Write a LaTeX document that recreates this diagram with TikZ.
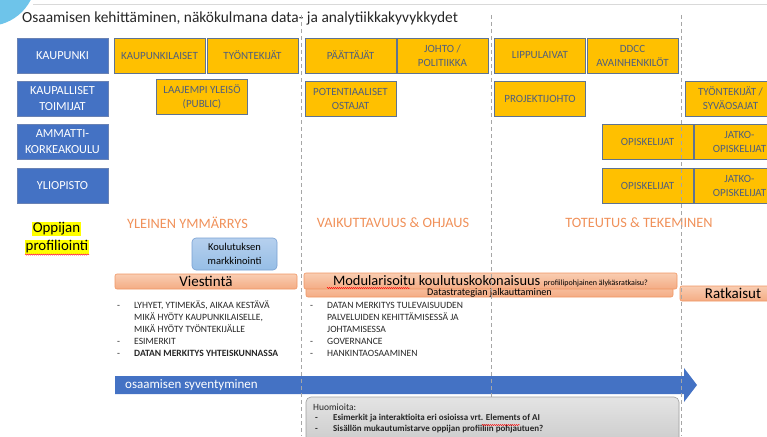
\documentclass[tikz,border=0pt]{standalone}
\usepackage{fontspec}
\setmainfont{Carlito}
\usetikzlibrary{decorations.pathmorphing}
\definecolor{cblue}{RGB}{68,114,196}
\definecolor{rowborder}{RGB}{105,130,180}
\definecolor{cyellow}{RGB}{255,192,0}
\definecolor{yborder}{RGB}{95,115,145}
\definecolor{ytext}{RGB}{80,95,125}
\definecolor{corange}{RGB}{240,145,90}
\definecolor{bartop}{RGB}{249,205,178}
\definecolor{barbot}{RGB}{244,172,132}
\definecolor{barborder}{RGB}{240,150,100}
\definecolor{ktop}{RGB}{182,208,238}
\definecolor{kbot}{RGB}{150,190,230}
\definecolor{kborder}{RGB}{120,160,210}
\definecolor{ntop}{RGB}{228,228,228}
\definecolor{nbot}{RGB}{200,200,200}
\definecolor{nborder}{RGB}{160,160,160}
\definecolor{dashgray}{RGB}{166,166,166}
\definecolor{topline}{RGB}{217,217,217}
\definecolor{sky}{RGB}{110,196,234}
\definecolor{ltext}{RGB}{38,38,38}
\definecolor{hl}{RGB}{255,255,0}
\begin{document}
\begin{tikzpicture}[x=1pt,y=-1pt,
 rowbox/.style={draw=rowborder, fill=cblue, text=white, font=\fontsize{12.3}{16}\selectfont, align=center, minimum width=91pt, minimum height=35pt, inner sep=1pt, line width=0.8pt},
 ybox/.style={draw=yborder, fill=cyellow, text=ytext, font=\fontsize{11}{14}\selectfont, align=center, minimum width=91pt, minimum height=35pt, inner sep=1pt, line width=0.8pt},
 heading/.style={text=corange, font=\fontsize{14.3}{16}\selectfont, inner sep=0pt},
 bar/.style={draw=barborder, top color=bartop, bottom color=barbot, rounded corners=2pt, inner sep=0pt, line width=0.6pt},
 phase/.style={draw=dashgray, dash pattern=on 4pt off 3pt, line width=1pt},
 listtxt/.style={text=ltext, font=\fontsize{9.6}{12}\selectfont, anchor=north west, inner sep=0pt, align=left},
 spell/.style={draw=red, line width=0.4pt, decorate, decoration={snake, amplitude=0.6pt, segment length=2pt}}
]
\useasboundingbox (0,0) rectangle (767,436);
\clip (0,0) rectangle (767,436);
% decoration
\fill[sky] (-12,-22) circle (48pt);
\draw[topline, line width=1pt] (33,5) -- (767,5);
\node[anchor=west, font=\fontsize{15.4}{18}\selectfont, text=ltext, inner sep=0pt] (title) at (22,18) {Osaamisen kehittäminen, näkökulmana data- ja analytiikkakyvykkydet};
% row labels
\node[rowbox] (kaup) at (62.5,55.5) {KAUPUNKI};
\node[rowbox] (kaupal) at (62.5,98.5) {KAUPALLISET\\TOIMIJAT};
\node[rowbox] (amk) at (62.5,142) {AMMATTI-\\KORKEAKOULU};
\node[rowbox] (yo) at (62.5,186) {YLIOPISTO};
% row 1
\node[ybox] (k1) at (159.5,55.5) {KAUPUNKILAISET};
\node[ybox] (k2) at (252.5,55.5) {TYÖNTEKIJÄT};
\node[ybox] (k3) at (350.5,55.5) {PÄÄTTÄJÄT};
\node[ybox] (k4) at (442.5,55.5) {JOHTO /\\POLITIIKKA};
\node[ybox] (k5) at (540,55.5) {LIPPULAIVAT};
\node[ybox] (k6) at (632.5,55.5) {DDCC\\AVAINHENKILÖT};
% row 2
\node[ybox] (t1) at (202,97) {LAAJEMPI YLEISÖ\\(PUBLIC)};
\node[ybox] (t2) at (350.5,98.5) {POTENTIAALISET\\OSTAJAT};
\node[ybox] (t3) at (540,98.5) {PROJEKTIJOHTO};
\node[ybox] (t4) at (730.5,98.5) {TYÖNTEKIJÄT /\\SYVÄOSAJAT};
% row 3, 4
\node[ybox] (a1) at (647.5,142) {OPISKELIJAT};
\node[ybox] (a2) at (739.5,142) {JATKO-\\OPISKELIJAT};
\node[ybox] (y1) at (647.5,186) {OPISKELIJAT};
\node[ybox] (y2) at (739.5,186) {JATKO-\\OPISKELIJAT};
% headings
\node[heading] (h1) at (187.5,223) {YLEINEN YMMÄRRYS};
\node[heading] (h2) at (393,223) {VAIKUTTAVUUS \& OHJAUS};
\node[heading] (h3) at (639,223) {TOTEUTUS \& TEKEMINEN};
% learner profiling
\node[fill=hl, inner sep=0.5pt, font=\fontsize{14.9}{17}\selectfont] (opp) at (56.5,229) {Oppijan};
\node[fill=hl, inner sep=0.5pt, font=\fontsize{14.9}{17}\selectfont] (prof) at (57,247) {profiliointi};
\draw[spell] ([yshift=-0.5pt]prof.south west) -- ([yshift=-0.5pt]prof.south east);
% marketing
\node[draw=kborder, top color=ktop, bottom color=kbot, rounded corners=4pt, line width=0.6pt, minimum width=85pt, minimum height=32pt, align=center, font=\fontsize{10.5}{14}\selectfont, inner sep=0pt] (mark) at (234.5,254) {Koulutuksen\\markkinointi};
% bars
\node[bar, minimum width=182pt, minimum height=15pt, font=\fontsize{15}{16}\selectfont] (viest) at (206,281.5) {Viestintä};
\node[bar, minimum width=367pt, minimum height=16pt] (data) at (489.5,289) {};
\node[bar, minimum width=373pt, minimum height=16pt] (modu) at (490.5,281) {\fontsize{14.4}{15}\selectfont Modularisoitu koulutuskokonaisuus \fontsize{8}{9}\selectfont profiilipohjainen älykäsratkaisu?};
\node[font=\fontsize{10.2}{11}\selectfont, inner sep=0pt] (datatxt) at (489.5,293.3) {Datastrategian jalkauttaminen};
\node[bar, minimum width=106pt, minimum height=15pt, font=\fontsize{15}{16}\selectfont] (ratk) at (733,293.5) {Ratkaisut};
\draw[spell] (327,288) -- (410,288);
% lists
\node[listtxt] (list1) at (117,299.5) {\begin{tabular}{@{}p{17pt}@{}l@{}}
- & LYHYET, YTIMEKÄS, AIKAA KESTÄVÄ\\
 & MIKÄ HYÖTY KAUPUNKILAISELLE,\\
 & MIKÄ HYÖTY TYÖNTEKIJÄLLE\\
- & ESIMERKIT\\
- & \textbf{DATAN MERKITYS YHTEISKUNNASSA}
\end{tabular}};
\node[listtxt] (list2) at (310,299.5) {\begin{tabular}{@{}p{17pt}@{}l@{}}
- & DATAN MERKITYS TULEVAISUUDEN\\
 & PALVELUIDEN KEHITTÄMISESSÄ JA\\
 & JOHTAMISESSA\\
- & GOVERNANCE\\
- & HANKINTAOSAAMINEN
\end{tabular}};
% arrow
\fill[cblue] (115,376) -- (684,376) -- (684,368) -- (697,385) -- (684,402) -- (684,394) -- (115,394) -- cycle;
\node[anchor=west, text=white, font=\fontsize{13}{15}\selectfont, inner sep=0pt] (deep) at (125,385) {osaamisen syventyminen};
% phase separators
\draw[phase] (301,15) -- (301,436);
\draw[phase] (491,15) -- (491,436);
\draw[phase] (681,15) -- (681,436);
% notes
\fill[nbot, rounded corners=5pt] (306,397) rectangle (679,450);
\node[draw=nborder, top color=ntop, bottom color=nbot, rounded corners=5pt, line width=0.6pt, minimum width=373pt, minimum height=53pt, inner sep=0pt] (note) at (492.5,423.5) {};
\node[anchor=west, font=\fontsize{9.5}{11}\selectfont, text=ltext, inner sep=0pt] (huom) at (313,407) {Huomioita:};
\node[listtxt, font=\fontsize{9}{11}\selectfont\bfseries] (list3) at (315,413) {\begin{tabular}{@{}p{18pt}@{}l@{}}
- & Esimerkit ja interaktioita eri osioissa vrt. Elements of AI\\
- & Sisällön mukautumistarve oppijan profiiliin pohjautuen?
\end{tabular}};
\draw[spell] (482,425) -- (520,425);
\end{tikzpicture}
\end{document}
